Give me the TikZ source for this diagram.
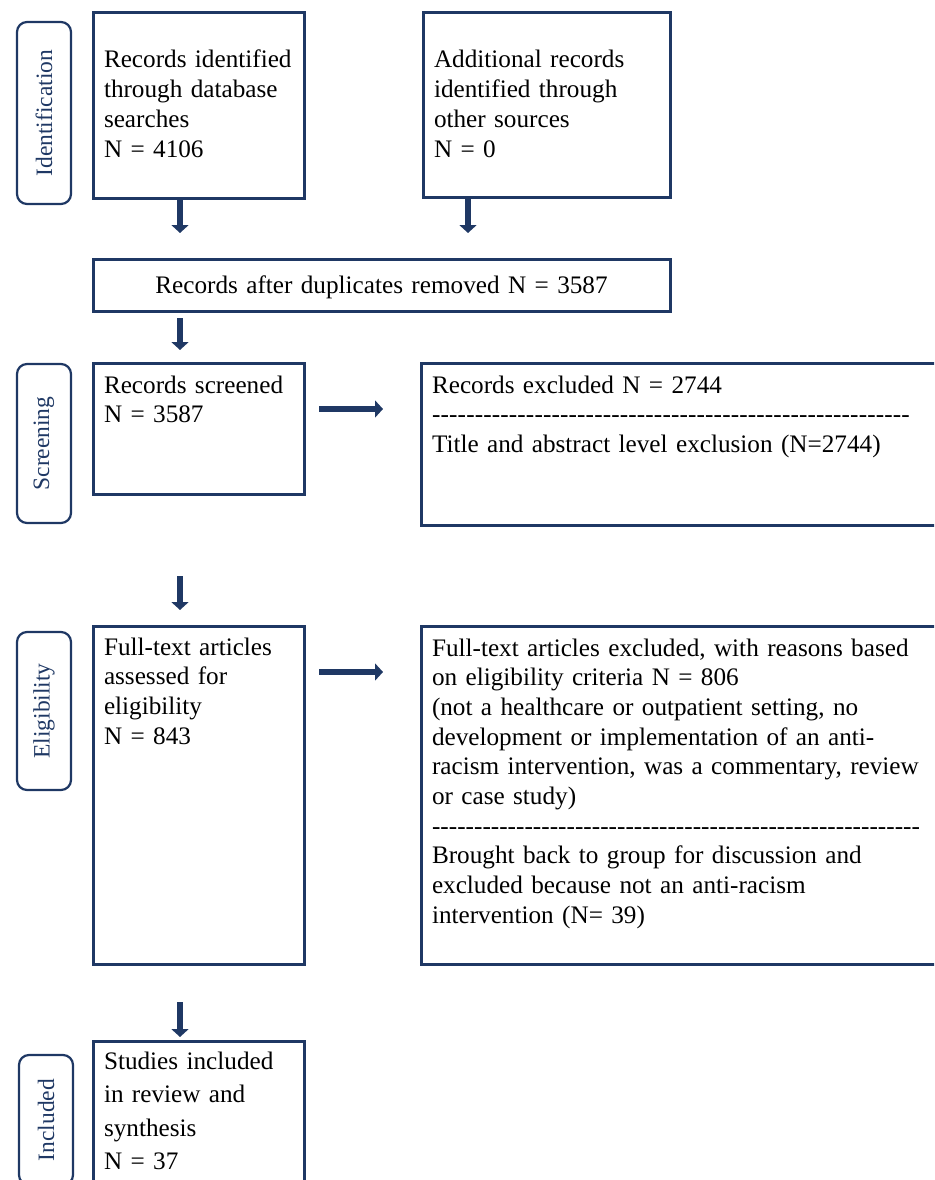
\documentclass[tikz,border=0pt]{standalone}
\usepackage{fontspec}
\setmainfont{Liberation Serif}
\usetikzlibrary{arrows.meta}
\definecolor{navy}{RGB}{31,56,100}
\hyphenpenalty=10000
\newcommand{\hyphenrule}[1]{\leavevmode\hbox to #1{\xleaders\hbox{-}\hfill}}

\begin{document}
\begin{tikzpicture}[x=1pt, y=-1pt,
    stagebox/.style={draw=navy, line width=2.2pt, rounded corners=10pt, rotate=90,
      minimum height=54pt, inner sep=0pt, text=navy, font=\fontsize{23.5}{28}\selectfont},
    flowbox/.style={draw=navy, line width=3pt, anchor=north west, outer sep=0pt,
      inner xsep=11pt, inner ysep=0pt, align=left, font=\fontsize{25.2}{29.7}\selectfont},
    arr/.style={navy, line width=6pt, -{Triangle[length=8pt, width=17pt]}}]
    \useasboundingbox (0,0) rectangle (934,1180);
    \clip (0,0) rectangle (934,1180);

    \node[stagebox, minimum width=182pt] (identlbl) at (44,113) {Identification};
    \node[stagebox, minimum width=159pt] (screenlbl) at (44,443.5) {Screening};
    \node[stagebox, minimum width=158pt] (eliglbl) at (44,711) {Eligibility};
    \node[stagebox, minimum width=130pt] (incllbl) at (46,1120) {Included};

    \node[flowbox, text width=189pt, text height=55pt, text depth=130pt] (db) at (93,13)
      {Records identified\\through database\\searches\\N = 4106};
    \node[flowbox, text width=225pt, text height=55pt, text depth=129pt] (other) at (423,13)
      {Additional records\\identified through\\other sources\\N = 0};
    \node[flowbox, text width=555pt, align=center, text height=34pt, text depth=18pt] (dup) at (93,259)
      {Records after duplicates removed N = 3587};
    \node[flowbox, text width=189pt, text height=30pt, text depth=101pt] (scr) at (93,363)
      {Records screened\\N = 3587};
    \node[flowbox, text width=517pt, text height=30pt, text depth=132pt] (exc) at (421,363)
      {Records excluded N = 2744\\\hyphenrule{478pt}\\Title and abstract level exclusion (N=2744)};
    \node[flowbox, text width=189pt, text height=29pt, text depth=309pt] (elig) at (93,626)
      {Full-text articles\\assessed for\\eligibility\\N = 843};
    \node[flowbox, text width=517pt, text height=30pt, text depth=308pt] (excft) at (421,626)
      {Full-text articles excluded, with reasons based\\on eligibility criteria N = 806\\(not a healthcare or outpatient setting, no\\development or implementation of an anti-\\racism intervention, was a commentary, review\\or case study)\\\hyphenrule{488pt}\\Brought back to group for discussion and\\excluded because not an anti-racism\\intervention (N= 39)};
    \node[flowbox, text width=189pt, text height=28pt, text depth=160pt,
      font=\fontsize{25.2}{33.5}\selectfont] (incl) at (93,1041)
      {Studies included\\in review and\\synthesis\\N = 37};

    \coordinate (leftcol) at (180,0);
    \coordinate (rightcol) at (468,0);
    \draw[arr, shorten <=2pt, shorten >=26pt] (db.south -| leftcol) -- (dup.north -| leftcol);
    \draw[arr, shorten <=2pt, shorten >=26pt] (other.south -| rightcol) -- (dup.north -| rightcol);
    \draw[arr, shorten <=7pt, shorten >=13pt] (dup.south -| leftcol) -- (scr.north -| leftcol);
    \draw[arr, shorten <=82pt, shorten >=16pt] (scr.south -| leftcol) -- (elig.north -| leftcol);
    \draw[arr, shorten <=38pt, shorten >=4pt] (elig.south -| leftcol) -- (incl.north -| leftcol);

    \draw[arr, shorten <=15pt, shorten >=38pt] ([yshift=-46pt]scr.north east) -- ([yshift=-46pt]exc.north west);
    \draw[arr, shorten <=15pt, shorten >=38pt] ([yshift=-46pt]elig.north east) -- ([yshift=-46pt]excft.north west);
  \end{tikzpicture}
\end{document}
